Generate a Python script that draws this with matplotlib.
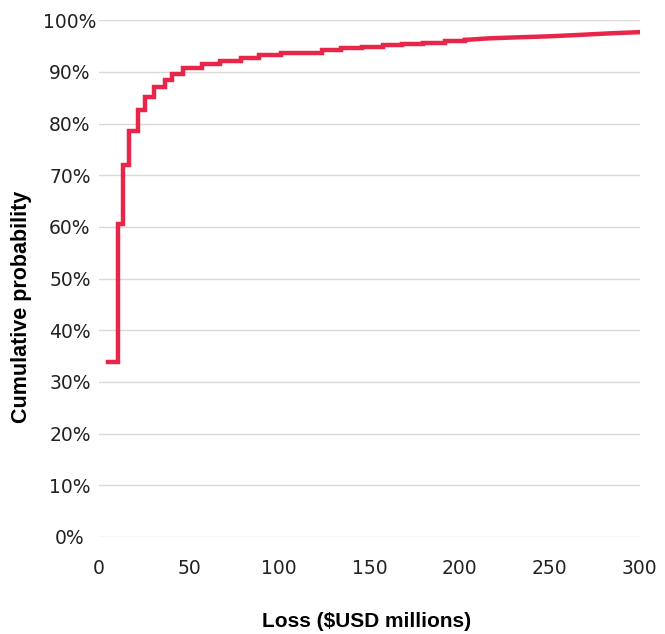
import matplotlib.pyplot as plt
from matplotlib.ticker import FuncFormatter

# Loss values ($USD millions) where the cumulative curve steps up
loss = [5, 10.3, 13.5, 16.8, 21.4, 25.5, 30.5, 36.6, 40.7, 46.4, 57, 67, 79, 89,
        100.8, 123.5, 134, 146, 157.5, 168, 180, 192, 203]
# Cumulative probability (%) from that loss on
prob = [33.9, 60.5, 72.0, 78.5, 82.6, 85.2, 87.1, 88.4, 89.7, 90.7, 91.5, 92.1,
        92.7, 93.2, 93.6, 94.2, 94.6, 94.9, 95.2, 95.4, 95.6, 95.9, 96.2]
# Smooth tail of the curve
tail_loss = [203, 216, 232, 250, 268, 285, 300]
tail_prob = [96.2, 96.5, 96.7, 96.9, 97.2, 97.5, 97.7]

x_ticks = [0, 50, 100, 150, 200, 250, 300]
y_ticks = [0, 10, 20, 30, 40, 50, 60, 70, 80, 90, 100]

plt.rcParams['font.family'] = ['DejaVu Sans']

fig = plt.figure(figsize=(6.65, 6.34), dpi=100)
ax = fig.add_axes([0.149, 0.153, 0.813, 0.815])

red = '#E8264A'
ax.plot(loss, prob, drawstyle='steps-post', color=red, linewidth=3.2,
        solid_joinstyle='miter')
ax.plot(tail_loss, tail_prob, color=red, linewidth=3.2)

ax.set_xlim(0, 300)
ax.set_ylim(0, 100)
ax.set_xticks(x_ticks)
ax.set_yticks(y_ticks)
ax.yaxis.set_major_formatter(FuncFormatter(lambda v, _: f"{v:.0f}%"))

ax.grid(axis='y', color='#d9d9d9', linewidth=1)
ax.set_axisbelow(True)
for s in ax.spines.values():
    s.set_visible(False)
ax.tick_params(length=0, labelsize=13.5, colors='#222222')
ax.tick_params(axis='x', pad=15.5)
ax.tick_params(axis='y', pad=21)
for lbl in ax.get_yticklabels():
    lbl.set_horizontalalignment('center')

ax.set_xlabel('Loss ($USD millions)', fontsize=15, fontweight='bold',
              family='Liberation Sans')
ax.set_ylabel('Cumulative probability', fontsize=15.5, fontweight='bold',
              family='Liberation Sans')
ax.xaxis.set_label_coords(0.494, -0.145)
ax.yaxis.set_label_coords(-0.124, 0.445)

fig.savefig('out.png', dpi=100)
